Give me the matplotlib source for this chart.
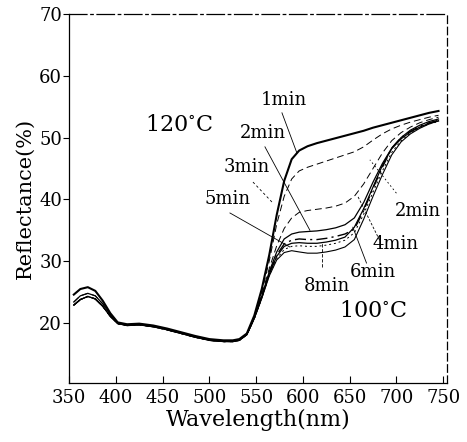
import matplotlib
matplotlib.use("Agg")
import matplotlib.pyplot as plt

plt.rcParams['font.family'] = ['DejaVu Serif']
plt.rcParams['mathtext.fontset'] = 'dejavuserif'

# 公共部分 (355-540 nm)
base_wl = [355, 362, 370, 378, 386, 394, 402, 412, 425, 440, 455, 470, 485, 500, 515, 525, 532, 540]
base_hi = [24.6, 25.5, 25.8, 25.2, 23.6, 21.6, 20.1, 19.8, 19.9, 19.6, 19.1, 18.5, 17.9, 17.4, 17.2, 17.2, 17.4, 18.3]
base_mid = [23.4, 24.4, 24.8, 24.4, 23.1, 21.4, 20.0, 19.7, 19.8, 19.5, 19.0, 18.4, 17.8, 17.3, 17.1, 17.1, 17.3, 18.2]
base_lo = [22.9, 23.8, 24.3, 23.9, 22.7, 21.1, 19.9, 19.6, 19.7, 19.4, 18.9, 18.3, 17.7, 17.2, 17.0, 17.0, 17.2, 18.1]

# 上升沿及平台 (548-745 nm)
tail_wl = [548, 556, 564, 572, 580, 588, 596, 605, 615, 625, 635, 645, 655, 665, 675, 685, 695, 705, 715, 725, 735, 745]
c120_1 = [21.2, 25.5, 31.0, 37.5, 43.0, 46.5, 47.9, 48.6, 49.1, 49.5, 49.9, 50.3, 50.7, 51.1, 51.6, 52.0, 52.4, 52.8, 53.2, 53.6, 54.0, 54.3]
c100_2 = [21.0, 25.0, 30.0, 36.0, 40.5, 43.3, 44.6, 45.2, 45.7, 46.2, 46.7, 47.2, 47.7, 48.5, 49.6, 50.6, 51.4, 52.0, 52.5, 52.9, 53.3, 53.6]
c120_3 = [20.9, 24.6, 28.8, 32.5, 35.3, 37.0, 37.9, 38.2, 38.4, 38.6, 38.9, 39.4, 40.5, 42.5, 45.0, 47.5, 49.5, 50.8, 51.7, 52.4, 52.9, 53.3]
c120_2 = [20.8, 24.3, 28.3, 31.5, 33.6, 34.4, 34.7, 34.8, 34.9, 35.1, 35.4, 35.9, 37.0, 39.5, 42.8, 45.8, 48.3, 50.0, 51.2, 52.0, 52.6, 53.0]
c100_4 = [20.8, 24.2, 28.0, 31.0, 32.8, 33.4, 33.6, 33.5, 33.5, 33.7, 34.0, 34.4, 35.2, 38.2, 41.8, 45.2, 48.3, 50.0, 51.0, 51.8, 52.4, 52.8]
c120_5 = [20.8, 24.1, 27.9, 30.8, 32.4, 32.9, 33.0, 32.9, 32.9, 33.1, 33.4, 33.9, 35.5, 38.5, 42.0, 45.5, 48.2, 49.8, 50.9, 51.7, 52.3, 52.7]
c100_6 = [20.7, 24.0, 27.7, 30.4, 31.9, 32.4, 32.5, 32.4, 32.4, 32.6, 32.9, 33.4, 34.6, 37.6, 41.2, 44.6, 47.6, 49.5, 50.7, 51.6, 52.2, 52.6]
c120_8 = [20.7, 24.0, 27.6, 30.2, 31.4, 31.7, 31.5, 31.3, 31.3, 31.5, 31.8, 32.3, 33.5, 36.8, 40.5, 44.0, 47.2, 49.3, 50.6, 51.5, 52.2, 52.7]

curves = [
    (base_hi, c120_1, '-', 1.5),
    (base_mid, c100_2, (0, (7, 4)), 0.7),
    (base_lo, c120_3, (0, (7, 4)), 0.7),
    (base_mid, c120_2, '-', 0.9),
    (base_lo, c100_4, (0, (8, 3, 1.5, 3)), 1.0),
    (base_lo, c120_5, '-', 0.9),
    (base_lo, c100_6, (0, (2, 3)), 0.7),
    (base_lo, c120_8, '-', 0.8),
]

# 标签文字和引线 (文字位置, 引线起点, 引线终点)
labels = ['1min', '2min', '3min', '5min', '8min', '6min', '4min', '2min']
label_pos = [(580, 56.1), (557, 50.7), (540, 45.2), (519, 40.1), (625.6, 26.0), (675, 28.3), (699, 32.8), (723, 38.1)]
lead_from = [(577.6, 54.0), (559.4, 48.5), (546.6, 42.8), (522, 37.8), (620, 29.1), (668, 29.7), (682, 33.4), (700, 41.0)]
lead_to = [(593.6, 47.5), (607.5, 35.0), (568, 39.4), (586, 32.3), (620, 32.9), (653.4, 35.5), (659, 40.4), (671.6, 46.4)]
lead_style = ['-', '-', (0, (3, 3)), '-', (0, (4, 2)), '-', (0, (3, 2)), (0, (2, 3))]

fig = plt.figure(figsize=(4.67, 4.42), dpi=100)
ax = fig.add_axes([0.148, 0.1335, 0.809, 0.835])

for base, tail, ls, lw in curves:
    ax.plot(base_wl + tail_wl, base + tail, color='black', linestyle=ls, linewidth=lw)

for txt, (tx, ty), (x0, y0), (x1, y1), ls in zip(labels, label_pos, lead_from, lead_to, lead_style):
    ax.text(tx, ty, txt, fontsize=13, ha='center', va='center')
    ax.plot([x0, x1], [y0, y1], color='black', linewidth=0.6, linestyle=ls)

ax.text(468, 52.0, '120$^{\\circ}$C', fontsize=16, ha='center', va='center')
ax.text(675, 21.9, '100$^{\\circ}$C', fontsize=16, ha='center', va='center')

ax.set_xlim(350, 754)
ax.set_ylim(10.3, 70)
ax.set_xticks(range(350, 751, 50))
ax.set_yticks(range(20, 71, 10))
ax.tick_params(axis='x', direction='in', length=5, labelsize=13, pad=4)
ax.tick_params(axis='y', direction='out', length=4, labelsize=13, pad=1)
ax.spines['right'].set_linestyle((0, (6, 3)))
ax.spines['top'].set_linestyle((0, (14, 3, 2, 3)))
for s in ax.spines.values():
    s.set_linewidth(0.9)

ax.set_xlabel('Wavelength(nm)', fontsize=16, labelpad=2)
ax.set_ylabel('Reflectance(%)', fontsize=15, labelpad=3)

fig.savefig('out.png', dpi=100)
